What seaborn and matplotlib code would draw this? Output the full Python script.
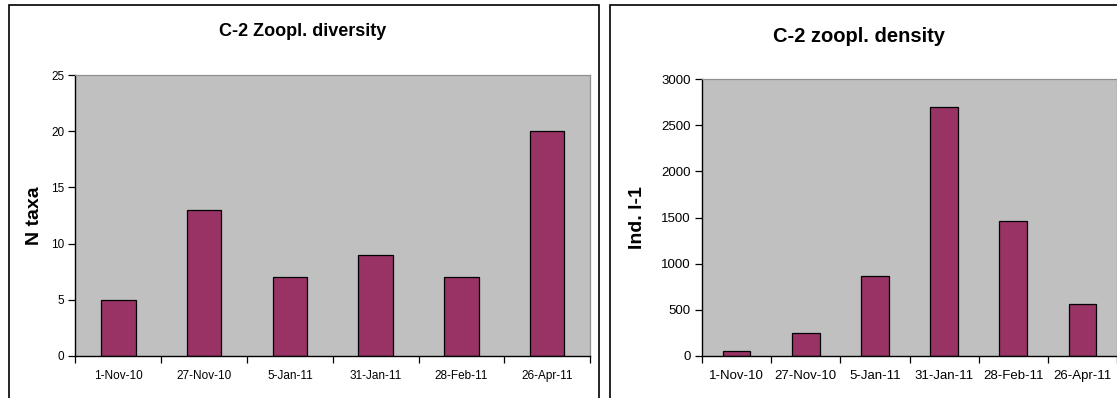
import matplotlib
matplotlib.use("Agg")
import matplotlib.pyplot as plt
from matplotlib.patches import Rectangle
import seaborn as sns

# Sampling dates and zooplankton metrics at station C-2
dates = ["1-Nov-10", "27-Nov-10", "5-Jan-11", "31-Jan-11", "28-Feb-11", "26-Apr-11"]
n_taxa = [5, 13, 7, 9, 7, 20]
density = [50, 250, 870, 2700, 1465, 565]

BAR = "#993366"
PLOT_BG = "#C0C0C0"

sns.set_style("white", {"axes.facecolor": PLOT_BG, "text.color": "black",
                        "axes.labelcolor": "black", "xtick.color": "black",
                        "ytick.color": "black"})
plt.rcParams["font.family"] = ["Liberation Sans", "DejaVu Sans"]

W, H = 1117, 398
fig = plt.figure(figsize=(W / 100, H / 100), dpi=100)
fig.patch.set_facecolor("white")


def px_axes(x0, y0, x1, y1):
    return fig.add_axes([x0 / W, 1 - y1 / H, (x1 - x0) / W, (y1 - y0) / H])


# chart frames
for (x0, y0, x1, y1) in [(9, 5, 599, 420), (610, 5, 1140, 420)]:
    fig.patches.append(Rectangle((x0 / W, 1 - y1 / H), (x1 - x0) / W, (y1 - y0) / H,
                                 transform=fig.transFigure, fill=False,
                                 edgecolor="black", linewidth=1.2, clip_on=False))


def style_axes(ax, ymax, ystep, fs):
    ax.set_ylim(0, ymax)
    ax.set_xlim(-0.5, len(dates) - 0.5)
    ax.set_yticks(range(0, ymax + 1, ystep))
    ax.set_xticks(list(range(len(dates))))
    ax.set_xticklabels(dates)
    ax.set_xticks([i - 0.5 for i in range(len(dates) + 1)], minor=True)
    ax.tick_params(axis="x", which="major", length=0, labelsize=fs, pad=10,
                   labelcolor="black")
    ax.tick_params(axis="x", which="minor", length=5, width=0.9, color="black", direction="out")
    ax.tick_params(axis="y", length=5, width=0.9, color="black", direction="out",
                   labelsize=fs, pad=3, labelcolor="black")
    ax.xaxis.set_ticks_position("bottom")
    ax.yaxis.set_ticks_position("left")
    for s in ("left", "bottom"):
        ax.spines[s].set_color("black")
        ax.spines[s].set_linewidth(1.0)
    for s in ("top", "right"):
        ax.spines[s].set_color("#909090")
        ax.spines[s].set_linewidth(0.9)
    ax.set_xlabel("")


# Left: diversity
ax1 = px_axes(75.5, 75, 590, 356)
sns.barplot(x=dates, y=n_taxa, ax=ax1, color=BAR, edgecolor="black",
            linewidth=0.9, width=0.4, saturation=1)
style_axes(ax1, 25, 5, 8.5)
ax1.set_ylabel("N taxa", fontsize=14, fontweight="bold", color="black")
ax1.yaxis.set_label_coords((35 - 75.5) / 514.5, (356 - 216) / 281)
ax1.yaxis.label.set_va("center")
fig.text(303 / W, 1 - 31 / H, "C-2 Zoopl. diversity", ha="center", va="center",
         fontsize=13, fontweight="bold", color="black")

# Right: density
ax2 = px_axes(702, 79, 1117, 356)
sns.barplot(x=dates, y=density, ax=ax2, color=BAR, edgecolor="black",
            linewidth=0.9, width=0.4, saturation=1)
style_axes(ax2, 3000, 500, 9.5)
ax2.set_ylabel("Ind. l-1", fontsize=14, fontweight="bold", color="black")
ax2.yaxis.set_label_coords((637 - 702) / 415, (356 - 218) / 277)
ax2.yaxis.label.set_va("center")
fig.text(859 / W, 1 - 36 / H, "C-2 zoopl. density", ha="center", va="center",
         fontsize=14.5, fontweight="bold", color="black")

fig.savefig("out.png", dpi=100)
